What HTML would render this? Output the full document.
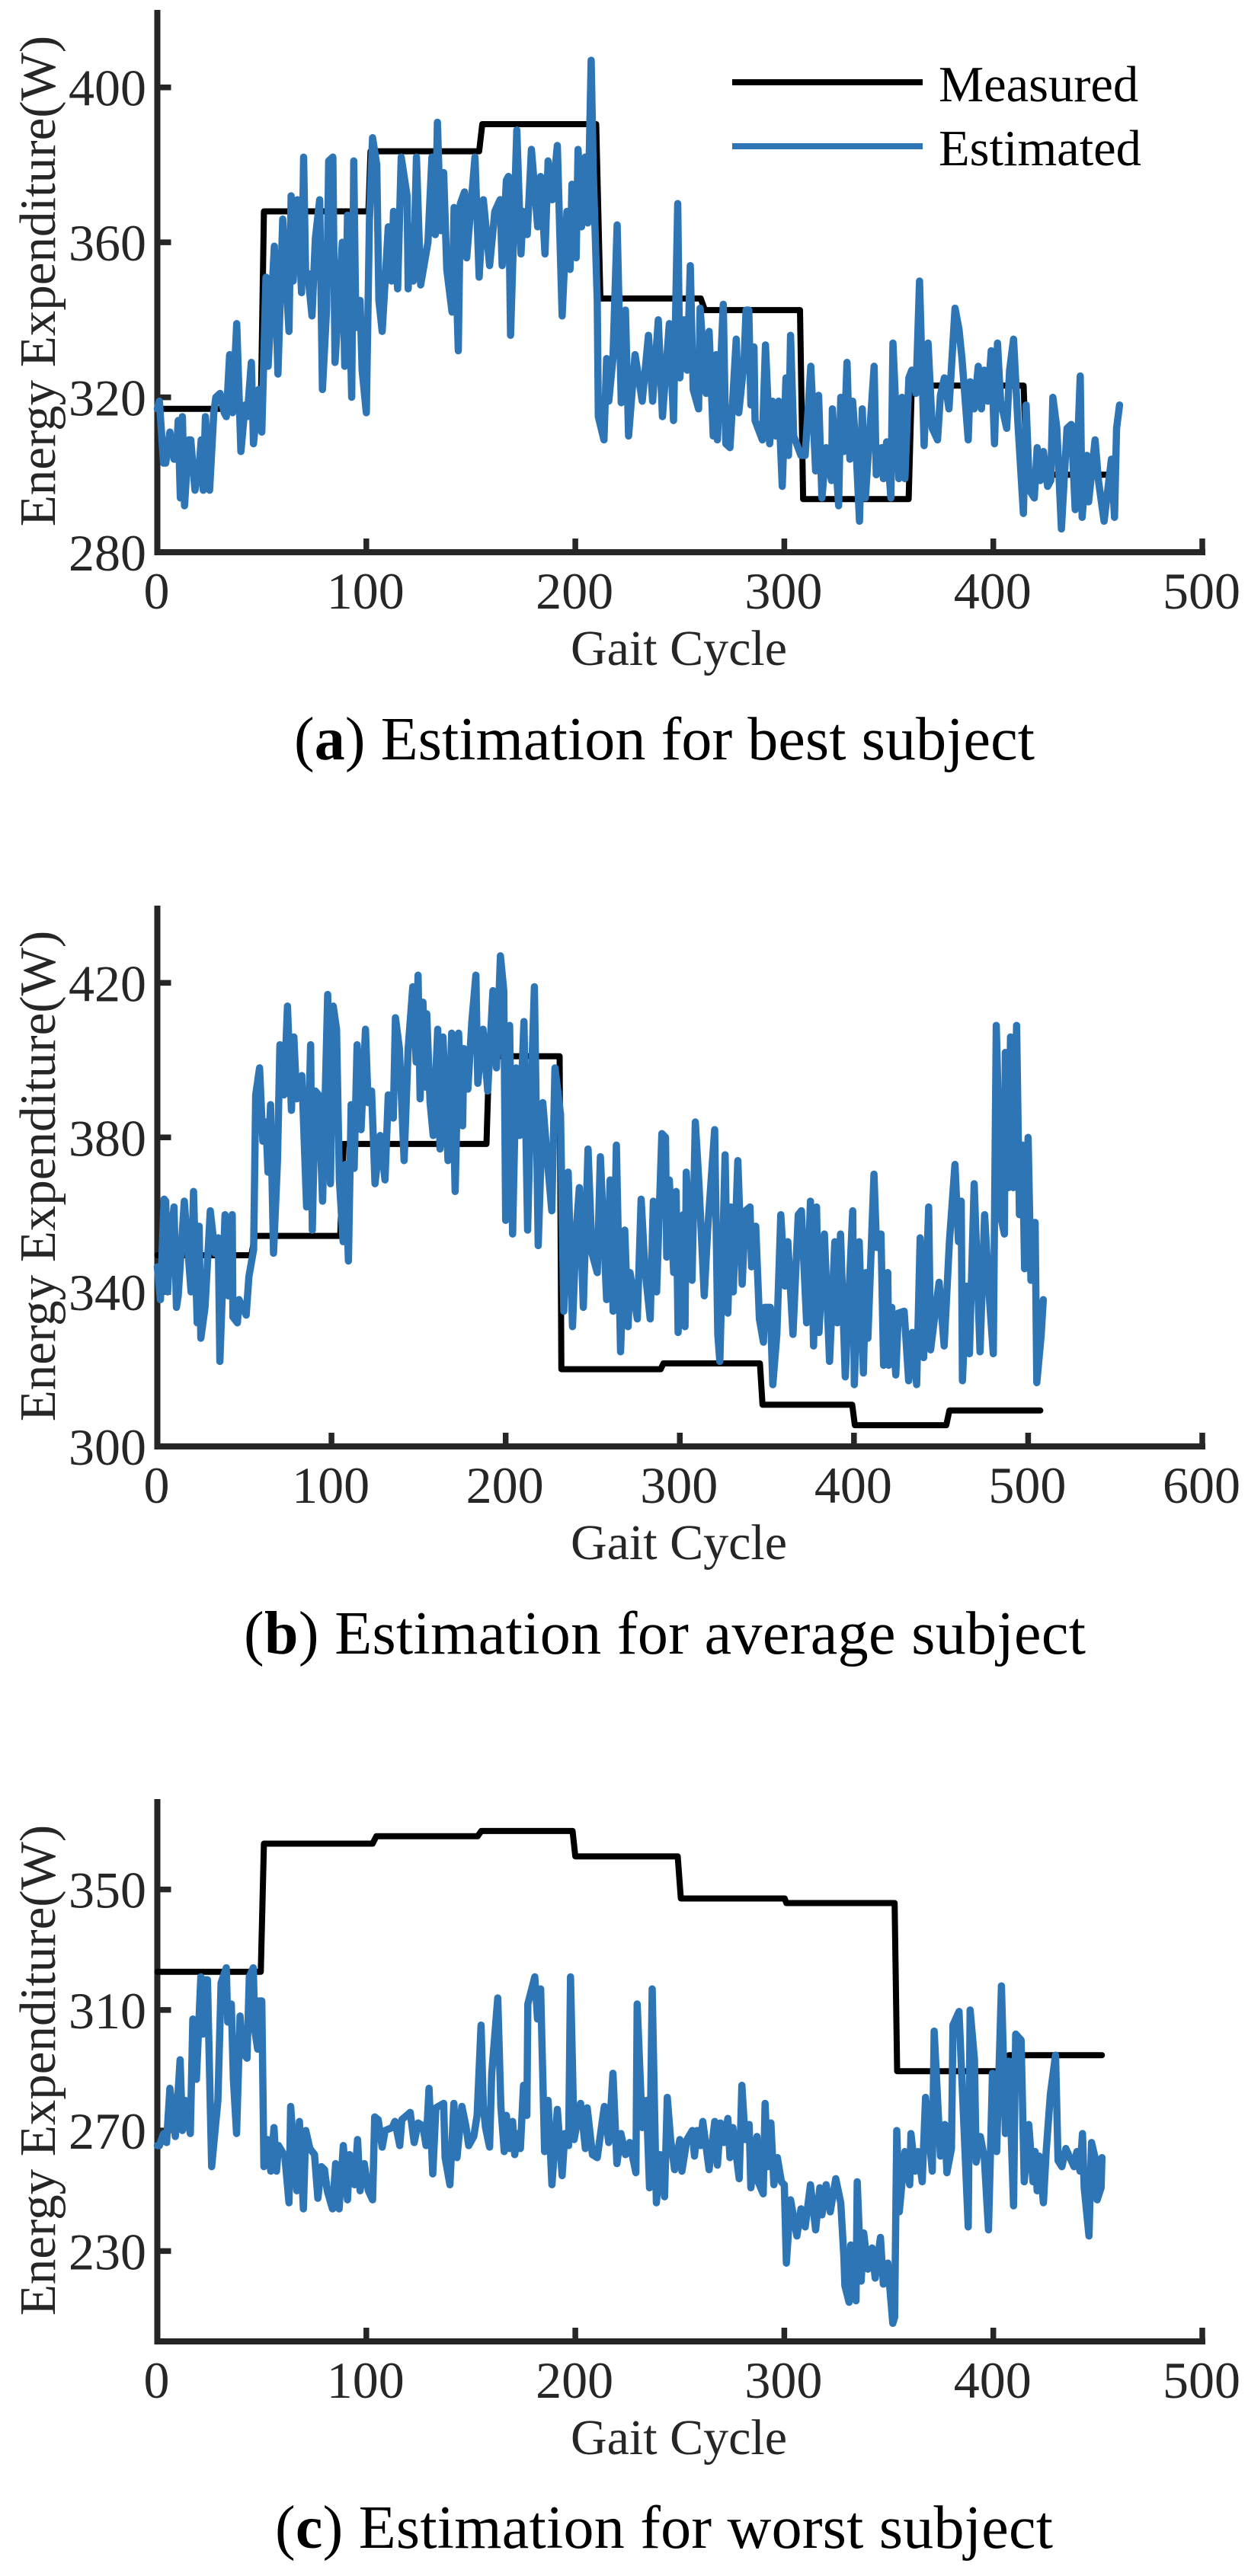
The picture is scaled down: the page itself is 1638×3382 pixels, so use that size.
<!DOCTYPE html>
<html lang="en">
<head>
<meta charset="utf-8">
<title>Energy expenditure estimation</title>
<style>
html,body{margin:0;padding:0;background:#fff;}
svg{display:block;}
text{font-family:"Liberation Serif","Times New Roman",serif;}
</style>
</head>
<body>
<svg id="figure" xmlns="http://www.w3.org/2000/svg" width="1638" height="3382" viewBox="0 0 1638 3382">
<rect x="0" y="0" width="1638" height="3382" fill="#ffffff"/>
<text x="386" y="997" font-size="80" fill="#000" textLength="972" lengthAdjust="spacing">(<tspan font-weight="bold">a</tspan>) Estimation for best subject</text>
<text x="320" y="2171" font-size="80" fill="#000" textLength="1105" lengthAdjust="spacing">(<tspan font-weight="bold">b</tspan>) Estimation for average subject</text>
<text x="361" y="3345" font-size="80" fill="#000" textLength="1021" lengthAdjust="spacing">(<tspan font-weight="bold">c</tspan>) Estimation for worst subject</text>
<line x1="961" y1="108" x2="1211" y2="108" stroke="#000" stroke-width="8"/>
<line x1="961" y1="192" x2="1211" y2="192" stroke="#2E75B6" stroke-width="8"/>
<text x="1232" y="133" font-size="66.5" fill="#000">Measured</text>
<text x="1232" y="217" font-size="66.5" fill="#000">Estimated</text>
</svg>
<script>
// ---- Chart (a): best subject ----
const aXTicks = [0,100,200,300,400,500];
const aYTicks = [280,320,360,400];
const aMeasuredCycles = [0,49.5,51,101,102,154,155.5,210,212,260,262,307.5,309,359.5,361,414.5,416,454];
const aMeasuredValues = [317,317,368,368,383.5,383.5,390.5,390.5,345.5,345.5,342.5,342.5,293.7,293.7,323,323,300,300];
const aEstimatedCycles = [
0,1,3,4,6,8,9,10,11,12,
13,15,16,18,20,21,22,23,25,27,
28,30,32,33,34.6,36,38,40,42,43,
45,46,48.5,50,52,53,56,57.7,60,63,
64,65,67,69,70,71,72,74,75.6,77.7,
79,81,82,84,85,88.5,89.7,91,93,94,
95,97,98,100,101.5,103,105,106,107.6,109,
110.5,112,113,115,116.7,119.5,120,121,122.5,124,
126,129.5,131.4,133,134,135.6,137,138.5,141,142,
144,145,147,148,152,154,156,159,161.5,164,
165,167,168,169,172,174,175,177,179,182,
183.4,185.5,187,189,191.4,193.7,196,197.5,198.4,200.4,
201.3,203,204.7,206,207.6,208.6,210.5,211,213.7,215,
216,218,220,222,224,225.5,228.6,232,235,237,
239.7,241.7,245,247,249,250,252,253.6,255,256.4,
259,259.7,262.6,264,266,267.4,268,270.8,272,274,
277,278.2,280.7,281.7,283,284,285.5,286,289.5,291,
293,294.3,296,297.3,299,300.8,302,303,304.5,308,
310,312.7,315,316.4,318,320,322.6,323,326,327,
328.5,330,331.4,332.7,334.5,336,337.3,338.8,341,343,
344,346.6,347.4,349,351,352,354.8,356.3,357.7,359.6,
361,363,364.7,366.9,368.8,370.8,373.3,374.7,376.6,378.8,
381.7,383.6,385,388,388.9,390.8,392.8,394.3,395.7,397.3,
399,400.6,402,403.5,406.4,407.8,409.7,411.7,414.4,415.7,
417.3,419.6,421,422.5,424,426,427.5,428.5,430.4,432.6,
435.3,437.3,439.2,441.6,442.5,444.8,445.6,448.7,450.3,453,
456.5,458,459,460.4];
const aEstimatedValues = [
317,319,303,303,311,304,304,314,294,315,
292,309,309,296,302,309,296,315,296,316,
320,321,316,315,331,316,339,306,318,315,
329,308,322,311,351,328,359,326,366,337,
372,350,371,347,382,350,352,341,361,371,
322,343,381,382,329,360,328,367,320,381,
338,345,327,316,366,387,380,345,337,350,
364,350,368,348,382,372,348,364,350,382,
349,360,382,362,391,363,378,353,342,369,
332,370,373,356,382,351,371,354,368,371,
354,376,377,336,389,357,368,362,384,364,
377,357,381,371,385,341,368,353,375,356,
384,364,382,365,407,378,345,315,309,330,
319,330,364.5,318.6,342.5,310,331,319,336,319,
340,315,339,314,370,325,340,327,354,322,
317,343,321,337,310,331,309,344,308,307,
335,316,329,342.5,342.5,318,333,314,309,333.5,
308,319,310,319,297,325,305,336,310,305,
305,328,301,320.5,294,307,298.5,317,292,320,
306,329,304,319,305,288,317,294,312,328,
300,307,299,308.5,294,334,299,320,299,325,
327,321,350,307.5,334,312,309,320.5,325,317,
343,337.5,330,309,324,317,328,317,327,319,
332,308,334,319,312,327,335,314,290,318,
296,294,307,298.5,306,297,298.5,320,312,286,
312,313,291,325.5,289,305,293,309,298.5,288,
304,289,312,318];

// ---- Chart (b): average subject ----
const bXTicks = [0,100,200,300,400,500,600];
const bYTicks = [300,340,380,420];
const bMeasuredCycles = [0,54,56,105,107,189,190.5,231,232,289,290.6,346,347.5,399,400.5,453,454.8,507];
const bMeasuredValues = [349.5,349.5,354.5,354.5,378.3,378.3,401,401,320,320,321.5,321.5,310.8,310.8,305.5,305.5,309.3,309.3];
const bEstimatedCycles = [
0,1.8,3.9,4.8,5.9,7.5,9.6,11,12,15.5,
17,19.4,20.8,22.9,24,25,27.4,30.4,33.1,35,
35.9,38.9,40.7,43,43.4,46,46.9,51,52.6,55.3,
56.5,58.7,60.6,62.4,63.5,65,66.7,69,70.4,72.7,
74.7,77,78.4,80,83,85.7,88,89,90.7,92.6,
94.9,97.8,99.4,101,102.9,104.5,106.7,108,109.7,111.3,
113,114.7,117,119.5,121,123,125,128,130.7,132.6,
135.5,136.7,139,141.7,144,146.7,148.6,149.7,150.9,152.5,
154.3,154.7,156.6,158.4,161,162.3,164,166.9,169,171,
173,175.3,176,178.3,180.6,182.9,184,187,189.7,192.7,
194.7,197,198.9,200,202.3,204,206,208,210.5,212.6,
214.4,216.5,218.7,221.3,224,226.5,228.3,231.5,233.4,235.9,
238.4,240.4,242.3,244.6,247.3,249.6,252.6,254.4,258,260,
261.7,263.6,266,268.4,270.3,271.4,275.6,277.8,280,283,
284.8,286.7,289.7,291.8,292.5,294,296.5,297.9,299,301.9,
303,303.7,307,308.9,311,314,316,320,321.8,323,
326,327.6,329.3,330.7,333.3,335.8,337.7,340.3,341.2,343.6,
345.7,348,348.7,352,353.4,355.7,358,360.4,362,365,
368,369.8,372.8,375,376.8,378.5,379.9,383,386,389,
390.4,392.3,395,399.3,400.2,403,405.4,406.8,408,411.5,
413,415.5,417,419.4,420,421.7,424,425.5,428.8,431.4,
433.5,436,438,440,442.9,444,447,448.9,451.8,454.8,
458,460,461.6,462.3,464.6,466.3,469,472.4,475,477.5,
480,481.7,484.5,486.4,486.9,488.8,489.9,491.5,493.4,495,
496.7,498,500,501.6,504,505,507.5,508.7];
const bEstimatedValues = [
346.5,338,364,363.5,340,354,362,336,339,363.5,
354,340,366,332,357,328,336,361,350,354,
322,360,339,360,333.5,332,338,334,344,351,
391,398,379,384,371,388.5,350,374,404,391,
414,387,406,390,396,362,404,356,392,391,
363.5,417,368,414,408,369,353,373,348,388.5,
372,404,382,408,389,392,368,380.5,369,391,
385,411,403,374,403,419,399.5,422,390,415,
393,412,389,380.5,408,377,406,374,407,366,
407,383,403,392.5,410,422,394,408,392,418,
398,427,418,358.5,409,355,398,380.5,410,356,
389,419,352,389,374,361,398,386,335,371,
331,355,367,336,377,350,345,375,338,369,
335,378,324.5,356,331,345,333,364,346,333,
363.5,340,381,380,349,369,345,366,329.5,360,
331,371,343,384,368,339,356,382,329,322,
375.5,334.5,362,340,374,342,361,362,346.5,357,
333,327,336,336,316,329,360,341.5,353,329,
360,361,332,363.5,326,362,329.5,355,322,353,
332,355,318,361,316,353,319,345,328,370.5,
351.5,355,321,345,321,336,318.5,334.5,335,317,
329.5,316,354,323,362,325,336,342.5,326,353,
373,353,363.5,317,341.5,324,368,324.5,360,340,
324,409,359,355,402,367,406,367,409,360,
378,346,380,343,358,316.5,329,338];

// ---- Chart (c): worst subject ----
const cXTicks = [0,100,200,300,400,500];
const cYTicks = [230,270,310,350];
const cMeasuredCycles = [0,49.5,51,103,104.8,153.3,155,198.7,200,249,250.5,300.2,301,352.8,354,406,407.5,452];
const cMeasuredValues = [322.7,322.7,365.2,365.2,367.7,367.7,369.4,369.4,361,361,347,347,345.5,345.5,289.7,289.7,295,295];
const cEstimatedCycles = [
0,1,3,4.4,6,8.6,10.9,12,13.3,15.8,
17,18.7,20.8,21.9,22.5,24,26,29,30.5,33,
33.7,35.4,36.4,37.9,39.6,40.6,42.9,44,45.9,46.7,
48,48.6,50,51,52.8,54.3,55.8,57,58,61,
63,63.8,66.7,68,69.9,71,73,75.2,76.8,78.5,
80,81.3,83.8,85.3,87,89,91,92,94.3,95.8,
97,99,101,103,104,105.7,107.6,109,112.4,113.7,
116,117,121,122.9,124.8,127,128.6,130,131.8,133.3,
137,137.7,140,141.9,143.4,145.7,147.6,149,151.4,153,
154.9,156,157,159,160,162.9,164.4,166,167,168.6,
170,171,172.4,173.7,175.2,176.8,177.3,180.6,181.9,183.4,
185.3,187,188.8,191.4,193.7,195,196.8,197.7,199.4,202.5,
204.8,205.7,208.2,210.5,213.9,216,218,219.9,221.8,224,
226,229,229.6,232,234,235.5,236.8,238.8,240.7,242.7,
244,245.6,247.5,250,251,253.4,256,257,258.3,260,
261,264,266.7,268,269.4,271,273,274,275.4,278.4,
279.7,281.3,283.2,284,286.9,287.5,289.9,290.8,292,293.6,
295,296.7,298.6,300,301,303,306,308,310,312.5,
315,317,318,320,322,324.6,327,328.5,329,331,
331.8,334.3,334.9,336.8,338,340,342,343.5,346,347.4,
349.5,351.9,352.8,353.8,355,357.7,360,360.6,362.6,364,
366,367.6,370.8,371.7,374.7,376.8,377.8,380,380.7,383.6,
388,388.9,391,391.8,393.8,395.7,397.7,399.6,401.6,403.9,
405.8,407.4,409.7,410.7,413.3,414.8,417,419,420,421,
422,424,425.3,427.3,429.8,431,432.8,434.7,438.6,440,
441.5,442.7,443.5,445.8,447,448.7,449.7,451.6,452];
const cEstimatedValues = [
265,265,269,266,284,268,293.5,270,280,269,
307,287,321,302,320,320,258,280,319,324,
306,312,287,269,308,296,294,321,324,303,
297,313,313,258,267,256.5,271,256.5,265,261.5,
246,278,250,273,244,270,264,262,247.5,258,
257,250,244,259,244,265,247,262,252,267,
250,259,250,247,274.5,273.6,264.5,270,271,273,
265,273.6,276,266,272.5,271.6,265,284,255.6,277.5,
279,261,252,279,261,278,271.6,265,268,275,
305,278,271,264.5,289,314,278,263,275,264,
273,262,269,264,285,275,312,321,307,317,
263,280,252,277,255,269,265,321,267,279,
264,277.5,262,261,278,266,289,259,269,262,
266,256,312,271,280,251,317,246,262,248,
281,267,257,267,256.5,267,270,261.5,270,265,
273,257,273,258.5,272.5,266,274,261,271,254,
285,267,272,251,268,253,249,279,258,272.5,
252,261,253,252,226,247,235,244,238,252,
237,251,242,252,243,254,246,228,218.5,213,
232,213.5,253,220,236,224,231,221,234.5,219,
226,206,208,270,243,263,252,269,256.5,263,
253,281,256.5,303,261.5,272,256,264,305,309.5,
238,310,293.5,259.5,268,261,237,289,263,318,
269,293,245,302,300,253,272,253,263,250,
261.5,246,263,282,295,260,258,264,258,263,
256.5,269,251,235,266,261,247,251,261];

const NS = 'http://www.w3.org/2000/svg';
const AXIS_COLOR = '#262626';
const svg = document.getElementById('figure');

function make(tag, attrs, parent) {
  const el = document.createElementNS(NS, tag);
  for (const k in attrs) el.setAttribute(k, attrs[k]);
  (parent || svg).appendChild(el);
  return el;
}

function linear(d0, d1, r0, r1) {
  return function (v) { return r0 + (v - d0) * (r1 - r0) / (d1 - d0); };
}

function polyline(group, xs, ys, X, Y, color, width, join) {
  let pts = '';
  const n = Math.min(xs.length, ys.length);
  for (let i = 0; i < n; i++) pts += X(xs[i]).toFixed(1) + ',' + Y(ys[i]).toFixed(1) + ' ';
  return make('polyline', {points: pts, fill: 'none', stroke: color, 'stroke-width': width, 'stroke-linejoin': join, 'stroke-linecap': 'round'}, group);
}

function drawChart(cfg) {
  const X = linear(cfg.xMin, cfg.xMax, 206.5, 1578);
  const Y = linear(cfg.yMin, cfg.yMax, cfg.bottom, cfg.top);
  const group = make('g', {});
  
  

  const yAxis = make('line', {x1: 206.5, y1: cfg.top, x2: 206.5, y2: cfg.bottom + 4, stroke: AXIS_COLOR, 'stroke-width': 8}, group);
  
  
  const xAxis = make('line', {x1: 202.5, y1: cfg.bottom, x2: 1582, y2: cfg.bottom, stroke: AXIS_COLOR, 'stroke-width': 8}, group);
  
  

  cfg.xTicks.forEach(function (t) {
    const mark = make('line', {x1: X(t), y1: cfg.bottom, x2: X(t), y2: cfg.bottom - 18, stroke: AXIS_COLOR, 'stroke-width': 7.5}, group);
    
    
    const label = make('text', {x: X(t) - 1, y: cfg.bottom + 74, 'font-size': 68, 'text-anchor': 'middle', fill: AXIS_COLOR}, group);
    
    
    label.textContent = String(t);
  });
  cfg.yTicks.forEach(function (t) {
    const mark = make('line', {x1: 206.5, y1: Y(t), x2: 224.5, y2: Y(t), stroke: AXIS_COLOR, 'stroke-width': 7.5}, group);
    
    
    const label = make('text', {x: 192, y: Y(t) + 24, 'font-size': 68, 'text-anchor': 'end', fill: AXIS_COLOR}, group);
    
    
    label.textContent = String(t);
  });

  const xTitle = make('text', {x: 891, y: cfg.bottom + 148, 'font-size': 66, 'text-anchor': 'middle', fill: AXIS_COLOR}, group);
  
  
  xTitle.textContent = 'Gait Cycle';
  const yTitle = make('text', {transform: 'translate(72 ' + cfg.yTitleCenter + ') rotate(-90)', x: 0, y: 0, 'font-size': 67, 'text-anchor': 'middle', fill: AXIS_COLOR}, group);
  
  
  yTitle.textContent = 'Energy Expenditure(W)';

  const measured = polyline(group, cfg.measuredCycles, cfg.measuredValues, X, Y, '#000000', 8, 'round');
  
  
  const estimated = polyline(group, cfg.estimatedCycles, cfg.estimatedValues, X, Y, '#2E75B6', 9.5, 'round');
  
  
}

drawChart({id: 'a', xMin: 0, xMax: 500, yMin: 280, yMax: 420, top: 13, bottom: 725, yTitleCenter: 369,
  xTicks: aXTicks, yTicks: aYTicks, measuredCycles: aMeasuredCycles, measuredValues: aMeasuredValues,
  estimatedCycles: aEstimatedCycles, estimatedValues: aEstimatedValues});
drawChart({id: 'b', xMin: 0, xMax: 600, yMin: 300, yMax: 440, top: 1189, bottom: 1899, yTitleCenter: 1544,
  xTicks: bXTicks, yTicks: bYTicks, measuredCycles: bMeasuredCycles, measuredValues: bMeasuredValues,
  estimatedCycles: bEstimatedCycles, estimatedValues: bEstimatedValues});
drawChart({id: 'c', xMin: 0, xMax: 500, yMin: 200, yMax: 380, top: 2362, bottom: 3074, yTitleCenter: 2718,
  xTicks: cXTicks, yTicks: cYTicks, measuredCycles: cMeasuredCycles, measuredValues: cMeasuredValues,
  estimatedCycles: cEstimatedCycles, estimatedValues: cEstimatedValues});
</script>
</body>
</html>
